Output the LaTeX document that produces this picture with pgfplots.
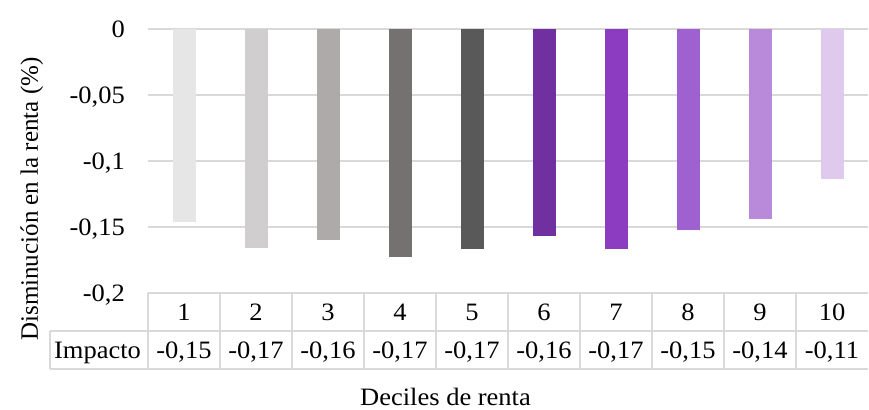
\documentclass[border=0pt]{standalone}
\usepackage{pgfplots}
\pgfplotsset{compat=1.18}
\usepackage{pgfplotstable}
\usepackage{fontspec}
\setmainfont{Liberation Serif}[FakeStretch=1.06]
\newfontfamily\ylabfont{Liberation Serif}

\definecolor{c1}{HTML}{E7E6E6}
\definecolor{c2}{HTML}{D0CECE}
\definecolor{c3}{HTML}{AEAAAA}
\definecolor{c4}{HTML}{767171}
\definecolor{c5}{HTML}{595959}
\definecolor{c6}{HTML}{7030A0}
\definecolor{c7}{HTML}{8B3CC1}
\definecolor{c8}{HTML}{9E61CF}
\definecolor{c9}{HTML}{B88AD9}
\definecolor{c10}{HTML}{DFCAEE}
\definecolor{gridgray}{HTML}{D9D9D9}

% decile, change in income (%)
\pgfplotstableread{
d v
1 -0.146
2 -0.166
3 -0.160
4 -0.173
5 -0.167
6 -0.157
7 -0.167
8 -0.152
9 -0.144
10 -0.114
}\deciles

\begin{document}
\fontsize{25bp}{29bp}\selectfont
\begin{tikzpicture}
\path[use as bounding box] (0,0) rectangle (869bp,-410bp);
\begin{axis}[
  at={(148bp,-29bp)}, anchor=north west,
  scale only axis, width=720bp, height=264bp,
  xmin=0.5, xmax=10.5, ymin=-0.2, ymax=0,
  clip=false,
  axis line style={draw=none},
  xtick=\empty,
  ytick={-0.2,-0.15,-0.1,-0.05,0},
  yticklabels={{-0,2},{-0,15},{-0,1},{-0,05},{0}},
  major tick length=0pt,
  ymajorgrids,
  grid style={gridgray, line width=1.3bp},
  yticklabel style={anchor=base east, inner sep=0pt, xshift=-23bp, yshift=-8bp},
  /pgf/number format/assume math mode=true,
  xlabel={Deciles de renta},
  xlabel style={at={(axis description cs:0.4132,-0.428)}, anchor=base},
  ylabel={\ylabfont Disminución en la renta (\%)},
  ylabel style={at={(axis description cs:-0.1528,0.356)}, anchor=base, rotate=0},
]
% one bar per decile, each in its own colour
\pgfplotsinvokeforeach{1,...,10}{
  \addplot[ybar, bar width=23bp, bar shift=0pt, draw=none, fill=c#1,
    x filter/.expression={x==#1 ? x : nan}] table[x=d, y=v] {\deciles};
}

% data table under the plot: grid lines
\draw[gridgray, line width=1.3bp] (axis cs:-0.8611,-0.22879) -- (axis cs:10.5,-0.22879);
\draw[gridgray, line width=1.3bp] (axis cs:-0.8611,-0.25758) -- (axis cs:10.5,-0.25758);
\draw[gridgray, line width=1.3bp] (axis cs:-0.8611,-0.22879) -- (axis cs:-0.8611,-0.25758);
\pgfplotsinvokeforeach{0,...,9}{
  \draw[gridgray, line width=1.3bp] (axis cs:#1.5,-0.2) -- (axis cs:#1.5,-0.25758);
}

% header row: decile numbers
\addplot[draw=none, mark=none, point meta=x, nodes near coords,
  every node near coord/.style={anchor=base, inner sep=0pt}]
  table[x=d, y expr=-0.22083] {\deciles};
% value row: rounded impact
\addplot[draw=none, mark=none, point meta=explicit, nodes near coords={%
    \pgfmathprintnumber[fixed, fixed zerofill, precision=2, use comma]{\pgfplotspointmeta}},
  every node near coord/.style={anchor=base, inner sep=0pt}]
  table[x=d, y expr=-0.24962, meta=v] {\deciles};
\node[anchor=base, inner sep=0pt] at (axis cs:-0.2014,-0.24962) {Impacto};
\end{axis}
\end{tikzpicture}
\end{document}
